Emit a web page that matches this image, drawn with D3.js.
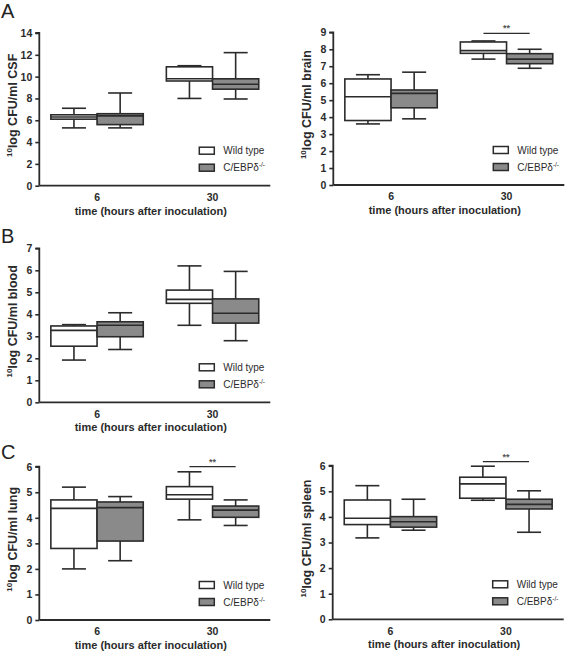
<!DOCTYPE html>
<html>
<head>
<meta charset="utf-8">
<script src="https://cdn.jsdelivr.net/npm/d3@7"></script>
<style>
  html, body { margin: 0; padding: 0; background: #fff; }
  svg { display: block; font-family: "Liberation Sans", Arial, sans-serif; }
</style>
</head>
<body>
<svg id="chart" width="567" height="651"></svg>
<script>
// ---------------- DATA ----------------
const groups = ["6", "30"];                 // hours after inoculation
const series = ["Wild type", "C/EBPδ"];     // genotype
// Box stats per group: [min, q1, median, q3, max]
const csfWT    = [[5.3, 6.1, 6.3, 6.5, 7.1],   [8.0, 9.6, 9.8, 10.9, 11.0]];
const csfKO    = [[5.3, 5.6, 6.4, 6.6, 8.5],   [7.95, 8.85, 9.3, 9.8, 12.2]];
const brainWT  = [[3.6, 3.8, 5.2, 6.25, 6.5],  [7.42, 7.76, 7.92, 8.43, 8.49]];
const brainKO  = [[3.9, 4.55, 5.4, 5.6, 6.65], [6.88, 7.15, 7.42, 7.74, 8.0]];
const bloodWT  = [[1.92, 2.55, 3.27, 3.47, 3.53], [3.5, 4.5, 4.68, 5.1, 6.2]];
const bloodKO  = [[2.4, 2.98, 3.5, 3.66, 4.07],   [2.8, 3.6, 4.05, 4.7, 5.95]];
const lungWT   = [[2.0, 2.8, 4.37, 4.7, 5.2],  [3.92, 4.73, 4.9, 5.22, 5.8]];
const lungKO   = [[2.32, 3.09, 4.4, 4.62, 4.83], [3.7, 4.02, 4.3, 4.46, 4.7]];
const spleenWT = [[3.18, 3.7, 3.95, 4.66, 5.22], [4.65, 4.73, 5.29, 5.55, 5.98]];
const spleenKO = [[3.48, 3.6, 3.81, 4.01, 4.69], [3.4, 4.31, 4.49, 4.69, 5.02]];
// y-axis maxima and significance bar levels (null = none)
const yMax = { csf: 14, brain: 9, blood: 7, lung: 6, spleen: 6 };
const yStep = { csf: 2, brain: 1, blood: 1, lung: 1, spleen: 1 };
const sigLevel = { csf: null, brain: 8.94, blood: null, lung: 6.0, spleen: 6.16 };
const yTitles = { csf: "log CFU/ml CSF", brain: "log CFU/ml brain", blood: "log CFU/ml blood", lung: "log CFU/ml lung", spleen: "log CFU/ml spleen" };
const xTitle = "time (hours after inoculation)";
const panelLetters = ["A", "B", "C"];

// ---------------- DRAW ----------------
const svg = d3.select("#chart");
const ink = "#2b2b2b";
const fills = ["#ffffff", "#8a8a8a"];

function drawPanel(key, wt, ko, x0, yTop, yZero) {
  const g = svg.append("g");
  const x = d3.scaleBand().domain(groups).range([x0, x0 + 231]).paddingInner(0.2).paddingOuter(0.1);
  const xs = d3.scaleBand().domain(series).range([0, x.bandwidth()]).padding(0);
  const y = d3.scaleLinear().domain([0, yMax[key]]).range([yZero, yTop]);

  // y axis
  const ticks = d3.range(0, yMax[key] + 0.001, yStep[key]);
  const yAxis = d3.axisLeft(y).tickValues(ticks).tickSize(4).tickPadding(3).tickFormat(d3.format("d"));
  const ya = g.append("g").attr("transform", `translate(${x0},0)`).call(yAxis);
  ya.select(".domain").attr("stroke", ink).attr("stroke-width", 1.8).attr("d", `M-4,${yTop}H0V${yZero}`);
  ya.selectAll(".tick line").attr("stroke", ink).attr("stroke-width", 1.6);
  ya.selectAll(".tick text").attr("fill", ink).attr("font-size", 10.5).attr("font-weight", "bold");

  // x axis
  const xAxis = d3.axisBottom(x).tickSize(0).tickPadding(8);
  const xa = g.append("g").attr("transform", `translate(0,${yZero})`).call(xAxis);
  xa.select(".domain").attr("stroke", ink).attr("stroke-width", 1.8).attr("d", `M${x0},0H${x0 + 231}`);
  xa.selectAll(".tick text").attr("fill", ink).attr("font-size", 10.5).attr("font-weight", "bold");

  g.append("text").attr("x", x0 + 231 / 2 - 4).attr("y", yZero + 29)
    .attr("text-anchor", "middle").attr("font-size", 11).attr("font-weight", "bold").attr("fill", ink)
    .text(xTitle);

  // y title
  const yt = g.append("text")
    .attr("transform", `translate(${x0 - 22},${(yTop + yZero) / 2 - 4}) rotate(-90)`)
    .attr("text-anchor", "middle").attr("font-size", 12.5).attr("font-weight", "bold").attr("fill", ink);
  yt.append("tspan").attr("font-size", 8).attr("dy", -5).text("10");
  yt.append("tspan").attr("dy", 5).text(yTitles[key]);

  // boxes
  const all = [wt, ko];
  all.forEach((arr, si) => {
    arr.forEach((s, gi) => {
      const bx = x(groups[gi]) + xs(series[si]);
      const bw = xs.bandwidth();
      const cx = bx + bw / 2;
      const capW = bw * 0.52;
      const bg = g.append("g").attr("stroke", ink).attr("stroke-width", 1.6);
      bg.append("line").attr("x1", cx).attr("x2", cx).attr("y1", y(s[4])).attr("y2", y(s[3]));
      bg.append("line").attr("x1", cx).attr("x2", cx).attr("y1", y(s[1])).attr("y2", y(s[0]));
      bg.append("line").attr("x1", cx - capW / 2).attr("x2", cx + capW / 2).attr("y1", y(s[4])).attr("y2", y(s[4]));
      bg.append("line").attr("x1", cx - capW / 2).attr("x2", cx + capW / 2).attr("y1", y(s[0])).attr("y2", y(s[0]));
      bg.append("rect").attr("x", bx).attr("width", bw).attr("y", y(s[3])).attr("height", y(s[1]) - y(s[3]))
        .attr("fill", fills[si]);
      bg.append("line").attr("x1", bx).attr("x2", bx + bw).attr("y1", y(s[2])).attr("y2", y(s[2]));
    });
  });

  // significance
  if (sigLevel[key] !== null) {
    const c1 = x("30") + xs(series[0]) + xs.bandwidth() / 2;
    const c2 = x("30") + xs(series[1]) + xs.bandwidth() / 2;
    g.append("line").attr("x1", c1).attr("x2", c2).attr("y1", y(sigLevel[key])).attr("y2", y(sigLevel[key]))
      .attr("stroke", ink).attr("stroke-width", 1.3);
    g.append("text").attr("x", (c1 + c2) / 2).attr("y", y(sigLevel[key]) - 2).attr("text-anchor", "middle")
      .attr("font-size", 9).attr("font-weight", "bold").attr("fill", "#555").text("**");
  }

  // legend
  const lx = x0 + 160;
  series.forEach((name, i) => {
    const ly = yZero - 35 + i * 17;
    g.append("rect").attr("x", lx).attr("y", ly - 3.5).attr("width", 15).attr("height", 7)
      .attr("fill", fills[i]).attr("stroke", ink).attr("stroke-width", 1.5);
    const t = g.append("text").attr("x", lx + 24).attr("y", ly + 3.5).attr("font-size", 10).attr("fill", ink);
    t.append("tspan").text(name);
    if (i === 1) t.append("tspan").attr("font-size", 6.5).attr("dy", -4).text("-/-");
  });
}

drawPanel("csf", csfWT, csfKO, 39.3, 33, 185.7);
drawPanel("brain", brainWT, brainKO, 333.3, 32.3, 185);
drawPanel("blood", bloodWT, bloodKO, 39.3, 248.3, 402.3);
drawPanel("lung", lungWT, lungKO, 39.3, 466.7, 620);
drawPanel("spleen", spleenWT, spleenKO, 332.7, 465.7, 619.3);

// panel letters
const letterY = [18, 243, 459];
panelLetters.forEach((L, i) => {
  svg.append("text").attr("x", 1).attr("y", letterY[i]).attr("font-size", 20).attr("fill", "#222").text(L);
});
</script>
</body>
</html>
